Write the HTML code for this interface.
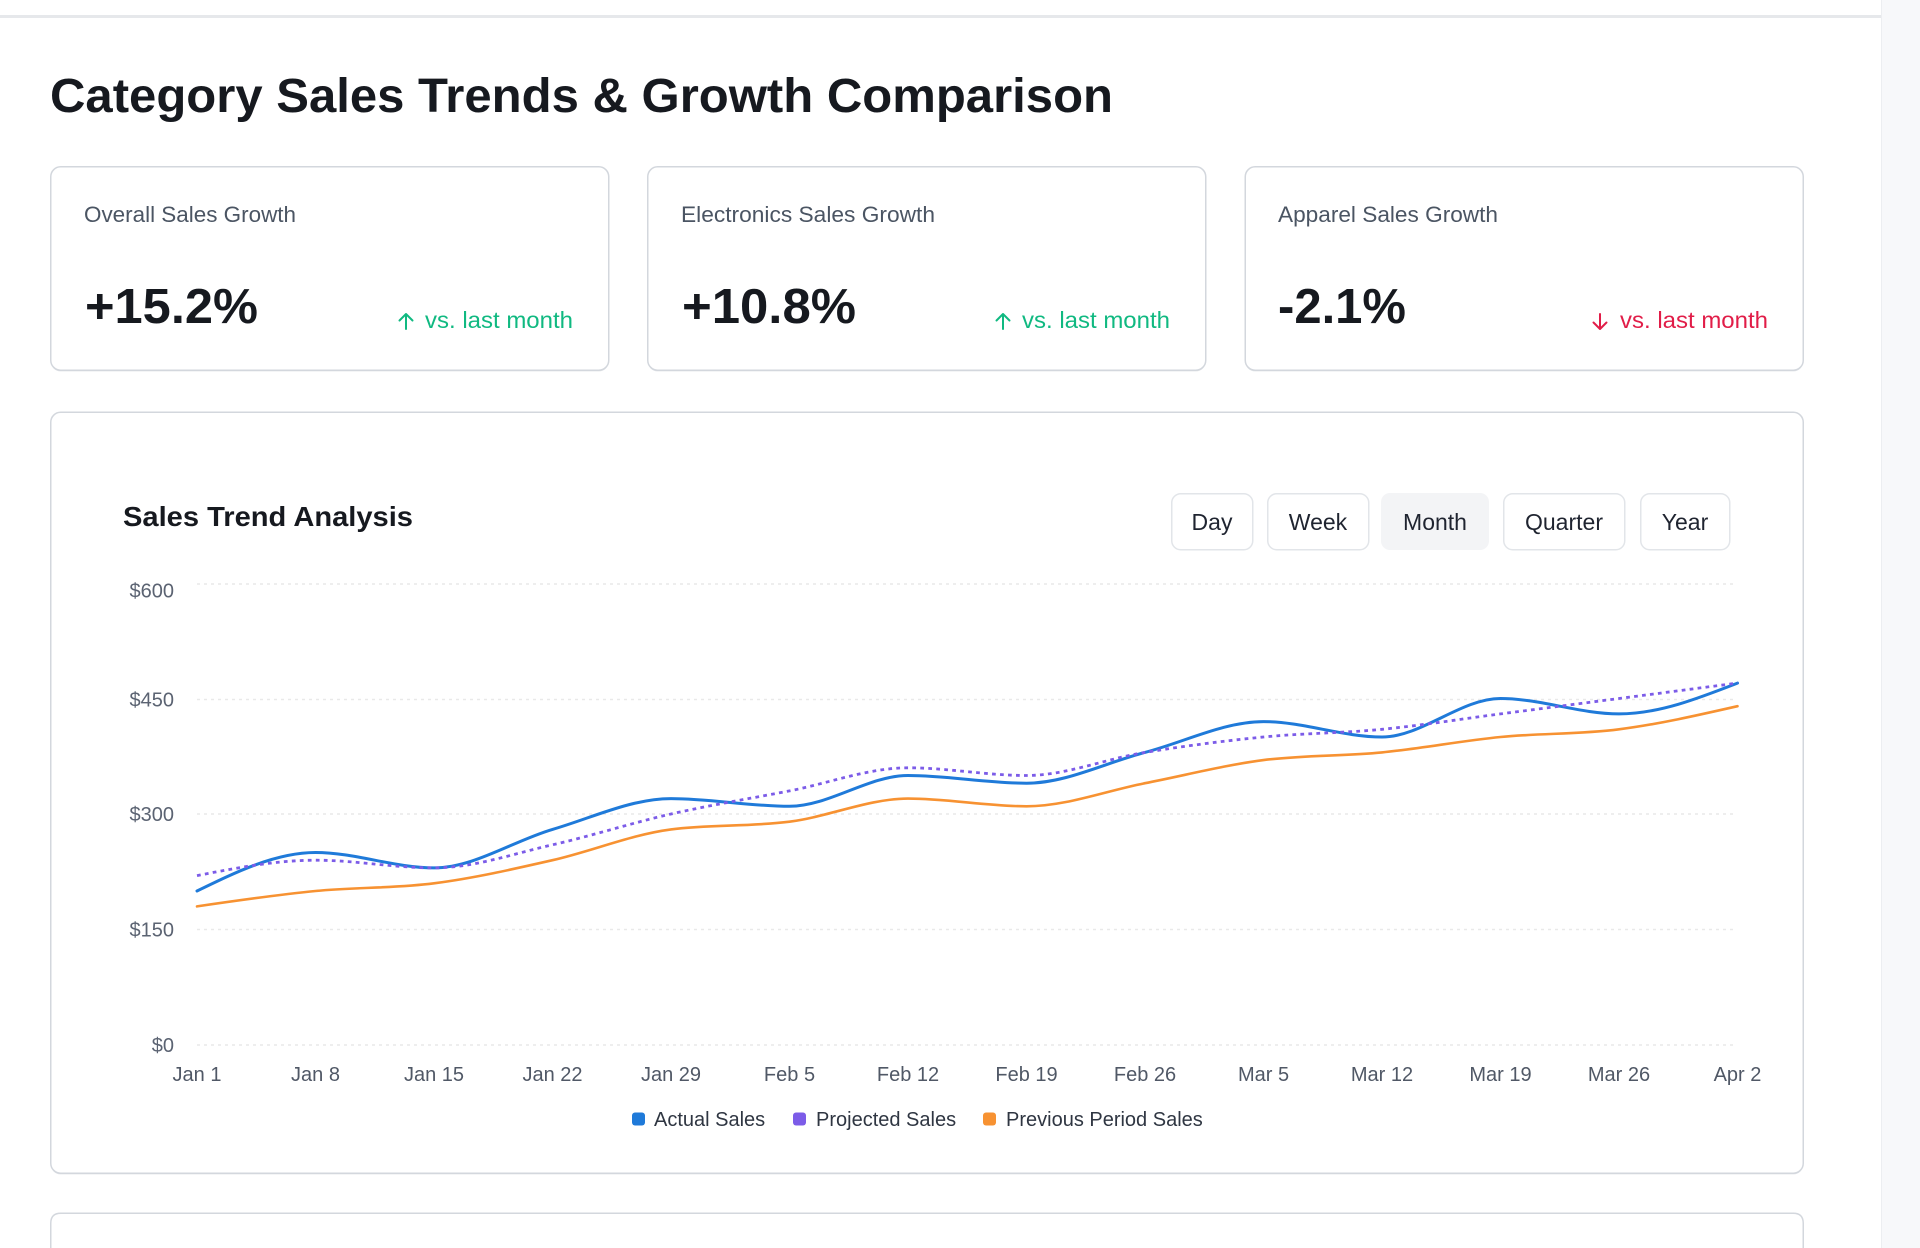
<!DOCTYPE html>
<html>
<head>
<meta charset="utf-8">
<style>
  html,body{margin:0;padding:0;background:#ffffff;}
  body{width:1920px;height:1248px;overflow:hidden;position:relative;}
  svg{position:absolute;left:0;top:0;display:block;}
  text{font-family:"Liberation Sans", Arial, sans-serif;}
</style>
</head>
<body>
<svg width="1920" height="1248" viewBox="0 0 1920 1248" xmlns="http://www.w3.org/2000/svg">
  <rect x="0" y="0" width="1920" height="1248" fill="#ffffff"/>
  <!-- top bar line -->
  <rect x="0" y="15" width="1881" height="3" fill="#e6e8eb"/>
  <!-- right strip -->
  <rect x="1881" y="0" width="39" height="1248" fill="#f7f8fa"/>
  <line x1="1881.5" y1="0" x2="1881.5" y2="1248" stroke="#eceef1" stroke-width="1"/>

  <!-- Title -->
  <text x="50" y="112" font-size="48" font-weight="bold" fill="#16191f" textLength="1063" lengthAdjust="spacingAndGlyphs">Category Sales Trends &amp; Growth Comparison</text>

  <!-- KPI cards -->
  <rect x="50.75" y="168" width="558" height="203.5" rx="10" fill="#e9ebee"/>
  <rect x="50.75" y="166.75" width="558" height="203.5" rx="10" fill="#ffffff" stroke="#d3d7dd" stroke-width="1.5"/>
  <rect x="647.75" y="168" width="558" height="203.5" rx="10" fill="#e9ebee"/>
  <rect x="647.75" y="166.75" width="558" height="203.5" rx="10" fill="#ffffff" stroke="#d3d7dd" stroke-width="1.5"/>
  <rect x="1245.25" y="168" width="558" height="203.5" rx="10" fill="#e9ebee"/>
  <rect x="1245.25" y="166.75" width="558" height="203.5" rx="10" fill="#ffffff" stroke="#d3d7dd" stroke-width="1.5"/>

  <text x="84" y="222" font-size="22" fill="#4b5563" textLength="212" lengthAdjust="spacingAndGlyphs">Overall Sales Growth</text>
  <text x="681" y="222" font-size="22" fill="#4b5563" textLength="254" lengthAdjust="spacingAndGlyphs">Electronics Sales Growth</text>
  <text x="1278" y="222" font-size="22" fill="#4b5563" textLength="220" lengthAdjust="spacingAndGlyphs">Apparel Sales Growth</text>

  <text x="85" y="323" font-size="49" font-weight="bold" fill="#16191f" textLength="173" lengthAdjust="spacingAndGlyphs">+15.2%</text>
  <text x="682" y="323" font-size="49" font-weight="bold" fill="#16191f" textLength="174" lengthAdjust="spacingAndGlyphs">+10.8%</text>
  <text x="1278" y="323" font-size="49" font-weight="bold" fill="#16191f" textLength="128" lengthAdjust="spacingAndGlyphs">-2.1%</text>

  <!-- arrows -->
  <g fill="none" stroke="#10b981" stroke-width="2" stroke-linecap="round" stroke-linejoin="round">
    <path d="M406 329 V314 M399.5 320.5 L406 314 L412.5 320.5"/>
    <path d="M1003 329 V314 M996.5 320.5 L1003 314 L1009.5 320.5"/>
  </g>
  <g fill="none" stroke="#e11d48" stroke-width="2" stroke-linecap="round" stroke-linejoin="round">
    <path d="M1600 314 V329 M1593.5 322.5 L1600 329 L1606.5 322.5"/>
  </g>
  <text x="425" y="328" font-size="23" fill="#10b981" textLength="148" lengthAdjust="spacingAndGlyphs">vs. last month</text>
  <text x="1022" y="328" font-size="23" fill="#10b981" textLength="148" lengthAdjust="spacingAndGlyphs">vs. last month</text>
  <text x="1620" y="328" font-size="23" fill="#e11d48" textLength="148" lengthAdjust="spacingAndGlyphs">vs. last month</text>

  <!-- Chart card -->
  <rect x="50.75" y="413.5" width="1752.5" height="761" rx="10" fill="#e9ebee"/>
  <rect x="50.75" y="412.25" width="1752.5" height="761" rx="10" fill="#ffffff" stroke="#d3d7dd" stroke-width="1.5"/>

  <!-- Bottom card (clipped at frame edge) -->
  <path d="M50.75,1248 V1223.25 Q50.75,1213.25 60.75,1213.25 H1793.25 Q1803.25,1213.25 1803.25,1223.25 V1248" fill="#ffffff" stroke="#d3d7dd" stroke-width="1.5"/>

  <text x="123" y="526" font-size="28" font-weight="bold" fill="#16191f" textLength="290" lengthAdjust="spacingAndGlyphs">Sales Trend Analysis</text>

  <!-- Buttons -->
  <rect x="1171.75" y="493.75" width="81" height="56" rx="9" fill="#ffffff" stroke="#e2e5e9" stroke-width="1.5"/>
  <rect x="1267.75" y="493.75" width="101" height="56" rx="9" fill="#ffffff" stroke="#e2e5e9" stroke-width="1.5"/>
  <rect x="1381" y="493" width="108" height="57" rx="9" fill="#f3f4f6"/>
  <rect x="1503.75" y="493.75" width="121" height="56" rx="9" fill="#ffffff" stroke="#e2e5e9" stroke-width="1.5"/>
  <rect x="1640.75" y="493.75" width="89" height="56" rx="9" fill="#ffffff" stroke="#e2e5e9" stroke-width="1.5"/>
  <g font-size="23" fill="#1f2430" text-anchor="middle">
    <text x="1212" y="530">Day</text>
    <text x="1318" y="530">Week</text>
    <text x="1435" y="530">Month</text>
    <text x="1564" y="530">Quarter</text>
    <text x="1685" y="530">Year</text>
  </g>

  <!-- Gridlines -->
  <g stroke="#e9e9e9" stroke-width="1.5" stroke-dasharray="3 4">
    <line x1="197" y1="584" x2="1737" y2="584"/>
    <line x1="197" y1="699.5" x2="1737" y2="699.5"/>
    <line x1="197" y1="814" x2="1737" y2="814"/>
    <line x1="197" y1="929.5" x2="1737" y2="929.5"/>
    <line x1="197" y1="1045" x2="1737" y2="1045"/>
  </g>

  <!-- Y labels -->
  <g font-size="20" fill="#5b6372" text-anchor="end">
    <text x="174" y="597.5">$600</text>
    <text x="174" y="706.5">$450</text>
    <text x="174" y="821">$300</text>
    <text x="174" y="936.5">$150</text>
    <text x="174" y="1052">$0</text>
  </g>

  <!-- X labels -->
  <g font-size="20" fill="#505866" text-anchor="middle">
    <text x="197" y="1081">Jan 1</text>
    <text x="315.5" y="1081">Jan 8</text>
    <text x="434" y="1081">Jan 15</text>
    <text x="552.5" y="1081">Jan 22</text>
    <text x="671" y="1081">Jan 29</text>
    <text x="789.5" y="1081">Feb 5</text>
    <text x="908" y="1081">Feb 12</text>
    <text x="1026.5" y="1081">Feb 19</text>
    <text x="1145" y="1081">Feb 26</text>
    <text x="1263.5" y="1081">Mar 5</text>
    <text x="1382" y="1081">Mar 12</text>
    <text x="1500.5" y="1081">Mar 19</text>
    <text x="1619" y="1081">Mar 26</text>
    <text x="1737.5" y="1081">Apr 2</text>
  </g>

  <!-- Series -->
  <path fill="none" stroke="#1f7ad9" stroke-width="3" stroke-linecap="round" stroke-linejoin="round"
    d="M197,891 C236.5,871.75 276,852.5 315.5,852.5 C355,852.5 394.5,867.9 434,867.9 C473.5,867.9 513,841 552.5,829.4 C592,817.85 631.5,798.6 671,798.6 C710.5,798.6 750,806.3 789.5,806.3 C829,806.3 868.5,775.5 908,775.5 C947.5,775.5 987,783.2 1026.5,783.2 C1066,783.2 1105.5,762.7 1145,752.4 C1184.5,742.1 1224,721.6 1263.5,721.6 C1303,721.6 1342.5,737 1382,737 C1421.5,737 1461,698.5 1500.5,698.5 C1540,698.5 1579.5,713.9 1619,713.9 C1658.5,713.9 1698,698.5 1737.5,683.1"/>
  <path fill="none" stroke="#7c5ce8" stroke-width="2.8" stroke-dasharray="3.75 4.25"
    d="M197,875.6 C236.5,867.9 276,860.2 315.5,860.2 C355,860.2 394.5,867.9 434,867.9 C473.5,867.9 513,853.8 552.5,844.8 C592,835.8 631.5,823 671,814 C710.5,805 750,798.6 789.5,790.9 C829,783.2 868.5,767.8 908,767.8 C947.5,767.8 987,775.5 1026.5,775.5 C1066,775.5 1105.5,758.8 1145,752.4 C1184.5,746 1224,740.85 1263.5,737 C1303,733.15 1342.5,733.15 1382,729.3 C1421.5,725.45 1461,719 1500.5,713.9 C1540,708.8 1579.5,703.6 1619,698.5 C1658.5,693.4 1698,688.2 1737.5,683.1"/>
  <path fill="none" stroke="#f79232" stroke-width="2.6" stroke-linecap="round" stroke-linejoin="round"
    d="M197,906.4 C236.5,900.6 276,894.85 315.5,891 C355,887.15 394.5,888.4 434,883.3 C473.5,878.2 513,869.2 552.5,860.2 C592,851.2 631.5,834.5 671,829.4 C710.5,824.3 750,826.8 789.5,821.7 C829,816.6 868.5,798.6 908,798.6 C947.5,798.6 987,806.3 1026.5,806.3 C1066,806.3 1105.5,790.9 1145,783.2 C1184.5,775.5 1224,765.2 1263.5,760.1 C1303,755 1342.5,756.25 1382,752.4 C1421.5,748.55 1461,740.85 1500.5,737 C1540,733.15 1579.5,734.4 1619,729.3 C1658.5,724.2 1698,715.2 1737.5,706.2"/>

  <!-- Legend -->
  <rect x="632" y="1112.5" width="13" height="13" rx="3" fill="#1f7ad9"/>
  <text x="654" y="1126" font-size="20" fill="#2f3642">Actual Sales</text>
  <rect x="793" y="1112.5" width="13" height="13" rx="3" fill="#7c5ce8"/>
  <text x="816" y="1126" font-size="20" fill="#2f3642">Projected Sales</text>
  <rect x="983" y="1112.5" width="13" height="13" rx="3" fill="#f79232"/>
  <text x="1006" y="1126" font-size="20" fill="#2f3642">Previous Period Sales</text>
</svg>
</body>
</html>
